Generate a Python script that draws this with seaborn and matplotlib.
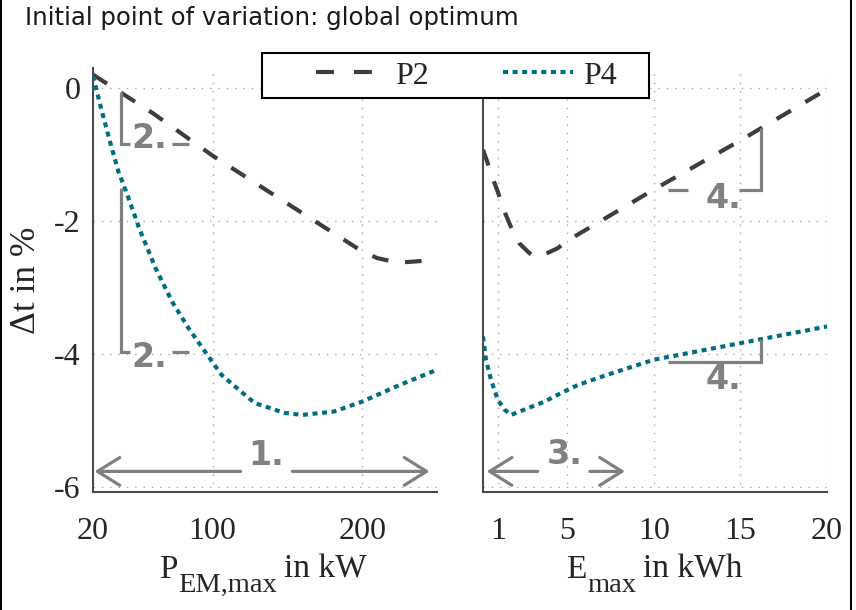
import matplotlib
matplotlib.use("Agg")
import matplotlib.pyplot as plt
from matplotlib.lines import Line2D
from matplotlib.patches import Rectangle
import seaborn as sns
import pandas as pd

# ---------------- data ----------------
series_names = ["P2", "P4"]

pem_x_p2 = [20, 60, 100, 150, 200, 210, 220, 230, 242]
pem_dt_p2 = [0.2, -0.38, -1.02, -1.74, -2.46, -2.56, -2.61, -2.62, -2.60]

pem_x_p4 = [20, 26, 32, 37, 43, 51, 62, 73, 84, 95, 106, 128, 148, 160, 181, 200, 225, 250]
pem_dt_p4 = [0.18, -0.36, -0.86, -1.26, -1.61, -2.12, -2.72, -3.22, -3.62, -3.97,
             -4.32, -4.74, -4.89, -4.92, -4.87, -4.72, -4.47, -4.24]

emax_x_p2 = [0.15, 0.42, 0.71, 1.0, 1.39, 1.87, 2.25, 2.93, 3.41, 4.47, 4.95, 10, 15, 20]
emax_dt_p2 = [-0.93, -1.13, -1.36, -1.56, -1.86, -2.16, -2.34, -2.51, -2.54, -2.41,
              -2.31, -1.53, -0.79, -0.02]

emax_x_p4 = [0.15, 0.32, 0.61, 1.0, 1.39, 1.77, 2.73, 3.7, 4.66, 5.62, 7.28, 10, 15, 20]
emax_dt_p4 = [-3.74, -4.09, -4.39, -4.69, -4.84, -4.92, -4.82, -4.72, -4.59, -4.47,
              -4.32, -4.09, -3.84, -3.59]

pem_ticks = [20, 100, 200]
emax_ticks = [1, 5, 10, 15, 20]
dt_ticks = [0, -2, -4, -6]
dt_ticklabels = ["0", "-2", "-4", "-6"]

title_text = "Initial point of variation: global optimum"
ylabel_text = "\u0394t in %"
xlabel_left_parts = ["P", "EM,max", "in kW"]
xlabel_right_parts = ["E", "max", "in kWh"]

# ---------------- style ----------------
sns.set_style("white")
plt.rcParams["font.family"] = ["Liberation Serif", "DejaVu Serif"]

C_P2 = "#3d3d3d"
C_P4 = "#006e82"
C_ANN = "#808080"
C_SPINE = "#4a4a4a"
palette = {"P2": C_P2, "P4": C_P4}
dashes = {"P2": (4, 4), "P4": (1.2, 1.1)}
legend_dashes = {"P2": (4.3, 4.8), "P4": (1.2, 1.1)}

df_left = pd.concat([
    pd.DataFrame({"x": pem_x_p2, "dt": pem_dt_p2, "series": "P2"}),
    pd.DataFrame({"x": pem_x_p4, "dt": pem_dt_p4, "series": "P4"}),
])
df_right = pd.concat([
    pd.DataFrame({"x": emax_x_p2, "dt": emax_dt_p2, "series": "P2"}),
    pd.DataFrame({"x": emax_x_p4, "dt": emax_dt_p4, "series": "P4"}),
])

W, H = 856, 610
fig = plt.figure(figsize=(W / 100, H / 100), dpi=100)
axL = fig.add_axes([93 / W, 1 - 492 / H, 344 / W, 424 / H])
axR = fig.add_axes([483 / W, 1 - 492 / H, 344 / W, 424 / H])

for ax, df in ((axL, df_left), (axR, df_right)):
    sns.lineplot(data=df, x="x", y="dt", hue="series", style="series",
                 palette=palette, dashes=dashes, linewidth=3, legend=False,
                 ax=ax, estimator=None, sort=False)
    for ln in ax.get_lines():
        ln.set_dash_capstyle("butt")
    ax.set_ylim(-6.08, 0.3)
    ax.set_yticks(dt_ticks)
    ax.grid(True, color="#a8a8a8", linestyle=(0, (1, 5)), linewidth=1)
    for s in ("top", "right"):
        ax.spines[s].set_visible(False)
    for s in ("left", "bottom"):
        ax.spines[s].set_color(C_SPINE)
        ax.spines[s].set_linewidth(1.5)
    ax.tick_params(axis="both", direction="in", length=4, color=C_SPINE,
                   labelsize=23)
    ax.tick_params(axis="x", pad=18)
    ax.tick_params(axis="y", pad=9)
    ax.set_axisbelow(True)
    ax.set_xlabel("")
    ax.set_ylabel("")

axL.set_xlim(20, 250)
axL.set_xticks(pem_ticks)
axL.set_yticklabels(dt_ticklabels)
axL.set_ylabel(ylabel_text, fontsize=25.5)
axL.yaxis.set_label_coords((43 - 93) / 344, 0.5)

axR.set_xlim(0.15, 20)
axR.set_xticks(emax_ticks)
axR.set_yticklabels([])

# ---------------- annotations ----------------
ann_font = dict(family="DejaVu Sans", weight="bold", size=24, color=C_ANN,
                ha="center", va="center")
lk = dict(color=C_ANN, lw=2.3, solid_capstyle="butt", solid_joinstyle="miter")
arrow_kw = dict(arrowstyle="->,head_length=0.4,head_width=0.25", color=C_ANN,
                lw=2.3, mutation_scale=40, shrinkA=0, shrinkB=0)

# 1. arrow
axL.annotate("", xy=(21, -5.77), xytext=(118.7, -5.77), arrowprops=arrow_kw)
axL.annotate("", xy=(245, -5.77), xytext=(153.3, -5.77), arrowprops=arrow_kw)
axL.text(136, -5.53, "1.", **ann_font)
# 2. brackets
axL.plot([38.5, 38.5, 45], [-0.06, -0.84, -0.84], **lk)
axL.plot([72.9, 84], [-0.84, -0.84], **lk)
axL.text(57.8, -0.76, "2.", **ann_font)
axL.plot([38.5, 38.5, 45], [-1.51, -3.97, -3.97], **lk)
axL.plot([72.9, 84], [-3.97, -3.97], **lk)
axL.text(57.8, -4.06, "2.", **ann_font)
# 3. arrow
axR.annotate("", xy=(0.36, -5.77), xytext=(3.31, -5.77), arrowprops=arrow_kw)
axR.annotate("", xy=(8.34, -5.77), xytext=(6.32, -5.77), arrowprops=arrow_kw)
axR.text(4.85, -5.52, "3.", **ann_font)
# 4. brackets
axR.plot([10.8, 12.0], [-1.53, -1.53], **lk)
axR.plot([14.9, 16.2, 16.2], [-1.53, -1.53, -0.6], **lk)
axR.text(14.02, -1.66, "4.", **ann_font)
axR.plot([10.8, 16.2, 16.2], [-4.12, -4.12, -3.78], **lk)
axR.text(14.02, -4.39, "4.", **ann_font)

# ---------------- x labels with large subscripts ----------------
renderer = fig.canvas.get_renderer()


def compound_label(parts, center_px, baseline_px):
    main, sub, rest = parts
    specs = [(main, 24, 0, 0), (sub, 20.5, 14, 1), (rest, 24, 0, 7)]
    texts = []
    x = 0.0
    for txt, size, dy, gap in specs:
        x += gap
        t = fig.text(0, 0, txt, fontsize=size, ha="left", va="baseline",
                     transform=None)
        w = t.get_window_extent(renderer).width
        texts.append((t, x, dy))
        x += w
    x0 = center_px - x / 2
    for t, xo, dy in texts:
        t.set_position((x0 + xo, H - baseline_px - dy))


compound_label(xlabel_left_parts, 263, 578)
compound_label(xlabel_right_parts, 654, 578)

# ---------------- legend ----------------
fig.patches.append(Rectangle((262 / W, 1 - 98 / H), 387 / W, 45 / H,
                             transform=fig.transFigure, facecolor="white",
                             edgecolor="black", lw=1.5, zorder=1))
handles = [Line2D([], [], color=palette[n], lw=3, dashes=legend_dashes[n],
                  dash_capstyle="butt") for n in series_names]
fig.legend(handles, series_names, loc="center", ncol=2, frameon=False,
           bbox_to_anchor=(466 / W, 1 - 76 / H), fontsize=23,
           handlelength=2.2, handletextpad=0.3, columnspacing=2.3,
           borderpad=0.1)

# ---------------- title & frame ----------------
fig.text(25 / W, 1 - 25 / H, title_text, family="DejaVu Sans", fontsize=17.6,
         color="#1a1a1a", ha="left", va="baseline")
fig.add_artist(Line2D([1 / W, 1 / W], [0, 1], transform=fig.transFigure,
                      color="black", lw=1.5))
fig.add_artist(Line2D([850.5 / W, 850.5 / W], [0, 1], transform=fig.transFigure,
                      color="black", lw=1.5))

fig.savefig("out.png", dpi=100)
